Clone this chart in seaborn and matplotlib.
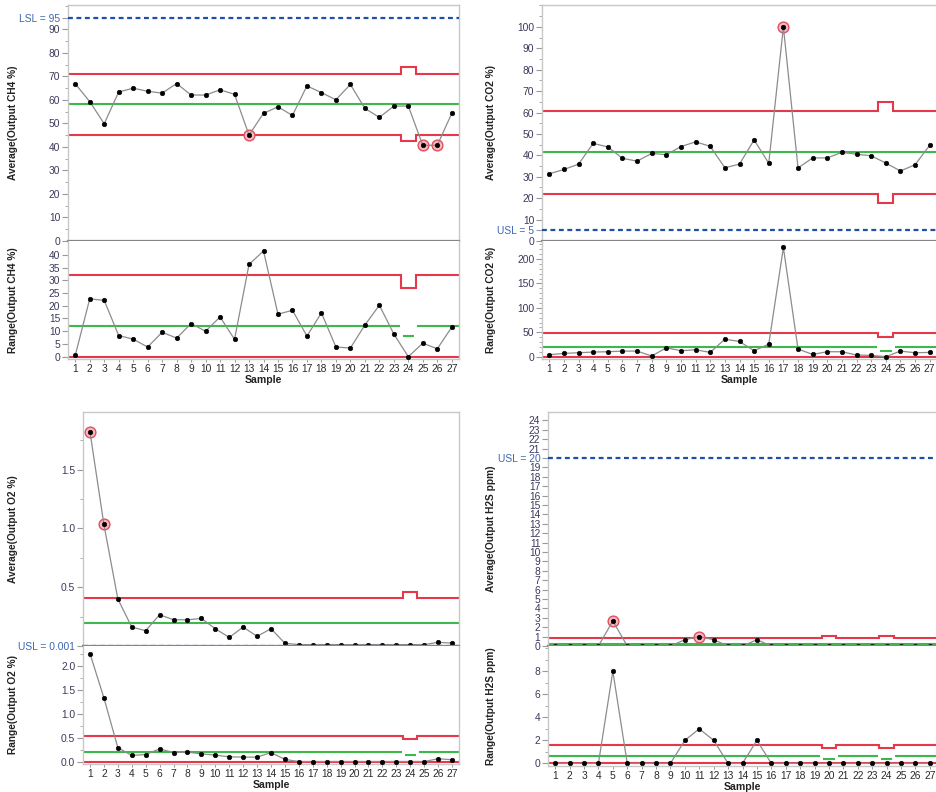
import numpy as np
import matplotlib
matplotlib.use("Agg")
import matplotlib.pyplot as plt
from matplotlib.ticker import MultipleLocator, FixedLocator
import seaborn as sns

sns.set_theme(style="white")
plt.rcParams["font.family"] = ["Liberation Sans", "DejaVu Sans"]

samples = list(range(1, 28))

# ---- CH4 ----
ch4_avg = [66.9, 59.3, 49.9, 63.4, 65.0, 63.7, 62.9, 67.0, 62.1, 62.1, 64.3, 62.4, 45.1, 54.3,
           57.1, 53.4, 66.0, 63.1, 60.1, 66.6, 56.4, 52.6, 57.4, 57.4, 40.7, 40.7, 54.3]
ch4_rng = [0.5, 22.7, 22.1, 8.3, 6.9, 3.8, 9.6, 7.3, 13.0, 10.0, 15.6, 6.8, 36.2, 41.5,
           16.7, 18.2, 8.1, 17.2, 3.8, 3.4, 12.4, 20.2, 8.9, 0.0, 5.3, 3.1, 11.6]
ch4_flags = [13, 25, 26]
ch4_short = [24]
# (regular subgroup, short subgroup)
ch4_avg_ucl, ch4_avg_cl, ch4_avg_lcl = (70.9, 73.9), (58.1, 58.1), (45.3, 42.6)
ch4_rng_ucl, ch4_rng_cl, ch4_rng_lcl = (31.9, 27.0), (12.1, 8.1), (0.0, 0.0)

# ---- CO2 ----
co2_avg = [31.4, 33.4, 35.9, 45.6, 43.9, 38.6, 37.3, 40.9, 40.3, 44.1, 46.3, 44.2, 34.2, 35.9,
           47.2, 36.3, 100.0, 34.1, 38.8, 38.8, 41.4, 40.5, 39.8, 36.4, 32.7, 35.6, 44.7]
co2_rng = [4.0, 6.8, 8.1, 9.5, 10.2, 11.5, 11.5, 1.4, 18.3, 12.2, 14.2, 8.8, 35.9, 31.2,
           12.2, 25.8, 223.7, 15.6, 4.7, 10.2, 10.2, 3.4, 2.7, 0.0, 11.5, 8.1, 8.8]
co2_flags = [17]
co2_short = [24]
co2_avg_ucl, co2_avg_cl, co2_avg_lcl = (60.6, 65.0), (41.4, 41.4), (21.9, 17.7)
co2_rng_ucl, co2_rng_cl, co2_rng_lcl = (48.8, 40.7), (19.0, 11.5), (0.0, 0.0)

# ---- O2 ----
o2_avg = [1.822, 1.034, 0.401, 0.161, 0.130, 0.266, 0.223, 0.223, 0.234, 0.147, 0.073, 0.161,
          0.082, 0.147, 0.023, 0.012, 0.012, 0.012, 0.012, 0.012, 0.012, 0.012, 0.012, 0.012,
          0.012, 0.031, 0.025]
o2_rng = [2.268, 1.34, 0.296, 0.131, 0.151, 0.268, 0.192, 0.2, 0.165, 0.137, 0.103, 0.096,
          0.096, 0.192, 0.048, 0.004, 0.004, 0.004, 0.004, 0.004, 0.004, 0.004, 0.004, 0.004,
          0.004, 0.062, 0.041]
o2_flags = [1, 2]
o2_short = [24]
o2_avg_ucl, o2_avg_cl, o2_avg_lcl = (0.412, 0.46), (0.198, 0.198), None
o2_rng_ucl, o2_rng_cl, o2_rng_lcl = (0.543, 0.474), (0.206, 0.144), (0.0, 0.0)

# ---- H2S ----
h2s_avg = [0, 0, 0, 0, 2.667, 0, 0, 0, 0, 0.667, 1.0, 0.667, 0, 0,
           0.667, 0, 0, 0, 0, 0, 0, 0, 0, 0, 0, 0, 0]
h2s_rng = [0, 0, 0, 0, 8, 0, 0, 0, 0, 2, 3, 2, 0, 0,
           2, 0, 0, 0, 0, 0, 0, 0, 0, 0, 0, 0, 0]
h2s_flags = [5, 11]
h2s_short = [20, 24]
h2s_avg_ucl, h2s_avg_cl, h2s_avg_lcl = (0.89, 1.03), (0.21, 0.21), None
h2s_rng_ucl, h2s_rng_cl, h2s_rng_lcl = (1.62, 1.36), (0.62, 0.40), (0.0, 0.0)

RED = "#E5394B"
GREEN = "#3DB84A"
BLUE = "#1F4FA6"
SPEC_TXT = "#3E67B1"
TICK_TXT = "#3A3A5C"
FRAME = "#C8C8C8"

W, H = 936, 792
fig = plt.figure(figsize=(W / 100, H / 100), dpi=100)


def px_axes(left, right, top, bottom):
    return fig.add_axes([left / W, 1 - bottom / H, (right - left) / W, (bottom - top) / H])


def limit_line(ax, short, vals, color, connect):
    if vals is None:
        return
    v = np.array([vals[1] if s in short else vals[0] for s in samples])
    edges = np.arange(0.5, len(samples) + 1)
    if connect:
        ax.stairs(v, edges, baseline=None, color=color, lw=1.5, zorder=1)
        return
    start = 0
    for i in range(1, len(v) + 1):
        if i == len(v) or v[i] != v[start]:
            x0 = edges[start] + (0.1 if start > 0 else 0)
            x1 = edges[i] - (0.1 if i < len(v) else 0)
            ax.hlines(v[start], x0, x1, color=color, lw=1.5, zorder=1)
            start = i


def style_axis(ax):
    for sp in ax.spines.values():
        sp.set_color(FRAME)
        sp.set_linewidth(1.0)
    ax.tick_params(axis="y", which="major", direction="out", length=4, width=0.8,
                   color="#999999", labelsize=7.4, labelcolor=TICK_TXT, pad=1.5, left=True)
    ax.tick_params(axis="y", which="minor", direction="out", length=2.5, width=0.7,
                   color="#aaaaaa", left=True)
    ax.set_xlim(0.5, 27.5)


def draw_series(ax, vals, flags):
    if flags:
        fy = [vals[s - 1] for s in flags]
        sns.scatterplot(x=flags, y=fy, ax=ax, s=60, color="#F6B9C0", edgecolor="#E0505F",
                        linewidth=1.0, zorder=2, legend=False, clip_on=False)
    sns.lineplot(x=samples, y=vals, ax=ax, color="#8C8C8C", lw=0.9, marker="o",
                 markersize=3.3, markeredgewidth=0.4, markerfacecolor="black",
                 markeredgecolor="black", zorder=3, clip_on=False, errorbar=None)


def chart(box_avg, box_rng, avg, rng, flags, short, avg_lims, rng_lims,
          avg_ylim, rng_ylim, avg_ticks, avg_labels, spec_val, avg_minor,
          rng_major, rng_minor, rng_top, avg_label, rng_label, label_x, fmt="{:g}"):
    a = px_axes(*box_avg)
    r = px_axes(*box_rng)
    for ax in (a, r):
        style_axis(ax)
    a.set_ylim(*avg_ylim)
    r.set_ylim(*rng_ylim)

    # average panel
    limit_line(a, short, avg_lims[0], RED, True)
    limit_line(a, short, avg_lims[1], GREEN, False)
    limit_line(a, short, avg_lims[2], RED, True)
    a.axhline(spec_val, color=BLUE, lw=1.6, ls=(0, (2.2, 1.6)), zorder=4)
    draw_series(a, avg, flags)
    a.set_yticks(avg_ticks)
    a.set_yticklabels(avg_labels)
    for t, lab in zip(a.get_yticklabels(), avg_labels):
        if "SL" in lab:
            t.set_color(SPEC_TXT)
    if avg_minor:
        a.yaxis.set_minor_locator(MultipleLocator(avg_minor))
    a.set_xticks([])
    a.spines["bottom"].set_color("#858585")
    a.spines["bottom"].set_linewidth(1.6)
    a.spines["bottom"].set_zorder(5)
    a.set_xlabel("")
    a.set_ylabel("")

    # range panel
    limit_line(r, short, rng_lims[0], RED, True)
    limit_line(r, short, rng_lims[1], GREEN, False)
    limit_line(r, short, rng_lims[2], RED, True)
    draw_series(r, rng, [])
    r.spines["top"].set_visible(False)
    major = np.arange(0, rng_top + rng_major * 0.01, rng_major)
    r.set_yticks(major)
    r.set_yticklabels([fmt.format(v) for v in major])
    if rng_minor:
        r.yaxis.set_minor_locator(FixedLocator(np.arange(0, rng_ylim[1], rng_minor)))
    r.set_xticks(samples)
    r.tick_params(axis="x", direction="out", length=2, width=0.7, color="#999999",
                  labelsize=7.4, labelcolor="#2a2a2a", pad=1.5, bottom=True)
    r.set_xlabel("Sample", fontsize=7.6, fontweight="bold", color="#222222", labelpad=1)
    r.set_ylabel("")

    yc_a = 1 - (box_avg[2] + box_avg[3]) / 2 / H
    yc_r = 1 - (box_rng[2] + box_rng[3]) / 2 / H
    fig.text(label_x / W, yc_a, avg_label, rotation=90, ha="center", va="center",
             fontsize=7.3, fontweight="bold", color="#222222")
    fig.text(label_x / W, yc_r, rng_label, rotation=90, ha="center", va="center",
             fontsize=7.3, fontweight="bold", color="#222222")


ch4_ticks = list(range(0, 100, 10)) + [95]
chart((68, 459, 5, 241), (68, 459, 241, 359), ch4_avg, ch4_rng, ch4_flags, ch4_short,
      (ch4_avg_ucl, ch4_avg_cl, ch4_avg_lcl), (ch4_rng_ucl, ch4_rng_cl, ch4_rng_lcl),
      (0, 100.4), (-0.9, 45.4), ch4_ticks, [str(t) for t in ch4_ticks[:-1]] + ["LSL = 95"],
      95, 5, 5, None, 40, "Average(Output CH4 %)", "Range(Output CH4 %)", 13)

co2_ticks = list(range(0, 110, 10)) + [5]
chart((542, 937, 5, 241), (542, 937, 241, 359), co2_avg, co2_rng, co2_flags, co2_short,
      (co2_avg_ucl, co2_avg_cl, co2_avg_lcl), (co2_rng_ucl, co2_rng_cl, co2_rng_lcl),
      (0, 110.2), (-4.7, 237), co2_ticks, [str(t) for t in co2_ticks[:-1]] + ["USL = 5"],
      5, 5, 50, 10, 200, "Average(Output CO2 %)", "Range(Output CO2 %)", 491)

o2_ticks = [0.5, 1.0, 1.5, 0.001]
chart((83, 459, 412, 646), (83, 459, 646, 764), o2_avg, o2_rng, o2_flags, o2_short,
      (o2_avg_ucl, o2_avg_cl, o2_avg_lcl), (o2_rng_ucl, o2_rng_cl, o2_rng_lcl),
      (0, 1.99), (-0.048, 2.426), o2_ticks, ["0.5", "1.0", "1.5", "USL = 0.001"],
      0.001, 0.25, 0.5, 0.25, 2.0, "Average(Output O2 %)", "Range(Output O2 %)", 13,
      fmt="{:.1f}")

h2s_ticks = list(range(0, 25))
chart((548, 937, 412, 646), (548, 937, 646, 766), h2s_avg, h2s_rng, h2s_flags, h2s_short,
      (h2s_avg_ucl, h2s_avg_cl, h2s_avg_lcl), (h2s_rng_ucl, h2s_rng_cl, h2s_rng_lcl),
      (0, 24.9), (-0.23, 10.2), h2s_ticks,
      ["USL = 20" if t == 20 else str(t) for t in h2s_ticks],
      20, None, 2, 1, 8, "Average(Output H2S ppm)", "Range(Output H2S ppm)", 491)

fig.savefig("out.png", dpi=100)
